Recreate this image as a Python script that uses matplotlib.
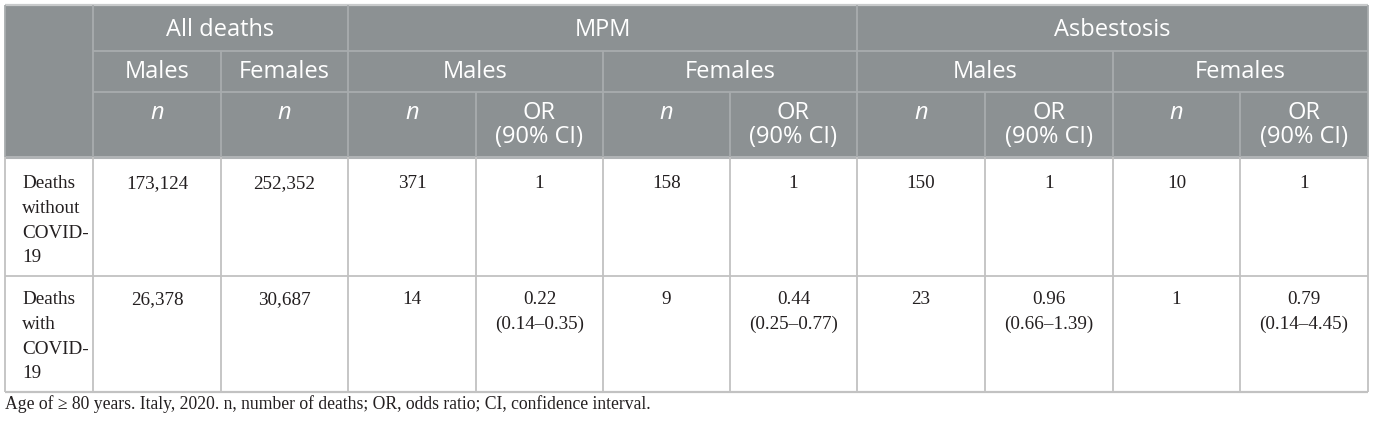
import matplotlib.pyplot as plt
from matplotlib.patches import Rectangle

# ---- table content ----
GROUPS = ["All deaths", "MPM", "Asbestosis"]
SEXES = ["Males", "Females", "Males", "Females", "Males", "Females"]
SUBHEADS = ["n", "n", "n", "OR\n(90% CI)", "n", "OR\n(90% CI)",
            "n", "OR\n(90% CI)", "n", "OR\n(90% CI)"]
ROW_LABELS = ["Deaths\nwithout\nCOVID-\n19", "Deaths\nwith\nCOVID-\n19"]
ROW_WITHOUT = ["173,124", "252,352", "371", "1", "158", "1", "150", "1", "10", "1"]
ROW_WITH = ["26,378", "30,687", "14", "0.22\n(0.14\u20130.35)", "9",
            "0.44\n(0.25\u20130.77)", "23", "0.96\n(0.66\u20131.39)", "1",
            "0.79\n(0.14\u20134.45)"]
CAPTION = ("Age of \u2265 80 years. Italy, 2020. n, number of deaths; OR, odds ratio; "
           "CI, confidence interval.")

# ---- layout (pixels) ----
W, H = 1375, 426
XS = [5, 93, 221, 348, 476, 603, 730, 857, 985, 1113, 1240, 1368]
Y_TOP, Y_R1, Y_R2, Y_HEAD, Y_B1, Y_BOT = 5, 51, 92, 157, 276, 392
HEAD_BG = "#8c9193"
HEAD_LINE = "#a8acae"
BODY_LINE = "#c2c2c2"
SANS = ["Open Sans", "DejaVu Sans"]
SERIF = ["Liberation Serif", "DejaVu Serif"]
LINE_H = 24.5
HEAD_FS = 17
BODY_FS = 13.8

fig = plt.figure(figsize=(W / 100, H / 100), dpi=100)
ax = fig.add_axes([0, 0, 1, 1])
ax.set_xlim(0, W)
ax.set_ylim(H, 0)
ax.axis("off")

# header background
ax.add_patch(Rectangle((XS[0], Y_TOP), XS[-1] - XS[0], Y_HEAD - Y_TOP,
                       facecolor=HEAD_BG, edgecolor="none", zorder=0))


def hline(y, x0, x1, color, lw=1.3):
    ax.plot([x0, x1], [y, y], color=color, lw=lw, solid_capstyle="butt", zorder=2)


def vline(x, y0, y1, color, lw=1.3):
    ax.plot([x, x], [y0, y1], color=color, lw=lw, solid_capstyle="butt", zorder=2)


# header grid
hline(Y_TOP, XS[0], XS[-1], "#c8cacb", 1.6)
hline(Y_R1, XS[1], XS[-1], HEAD_LINE)
hline(Y_R2, XS[1], XS[-1], HEAD_LINE)
hline(Y_HEAD, XS[0], XS[-1], "#b0b3b5", 2.2)
for x in [XS[0], XS[1], XS[3], XS[7], XS[-1]]:
    vline(x, Y_TOP, Y_HEAD, HEAD_LINE)
for x in [XS[2], XS[5], XS[9]]:
    vline(x, Y_R1, Y_HEAD, HEAD_LINE)
for x in [XS[4], XS[6], XS[8], XS[10]]:
    vline(x, Y_R2, Y_HEAD, HEAD_LINE)

# body grid
hline(Y_B1, XS[0], XS[-1], BODY_LINE)
hline(Y_BOT, XS[0], XS[-1], BODY_LINE, 1.6)
for x in XS:
    vline(x, Y_HEAD, Y_BOT, BODY_LINE)

# header text
group_spans = [(1, 3), (3, 7), (7, 11)]
for name, (a, b) in zip(GROUPS, group_spans):
    ax.text((XS[a] + XS[b]) / 2, 30, name, family=SANS, fontsize=HEAD_FS,
            color="white", ha="center", va="center")
sex_spans = [(1, 2), (2, 3), (3, 5), (5, 7), (7, 9), (9, 11)]
for name, (a, b) in zip(SEXES, sex_spans):
    ax.text((XS[a] + XS[b]) / 2, 72, name, family=SANS, fontsize=HEAD_FS,
            color="white", ha="center", va="center")
for i, s in enumerate(SUBHEADS):
    cx = (XS[i + 1] + XS[i + 2]) / 2
    for j, line in enumerate(s.split("\n")):
        ax.text(cx, 113 + j * 24, line, family=SANS, fontsize=HEAD_FS,
                color="white", ha="center", va="center",
                style="italic" if line == "n" else "normal")

# body text
for r, (label, vals) in enumerate(zip(ROW_LABELS, [ROW_WITHOUT, ROW_WITH])):
    y0 = [184, 300][r]
    for j, line in enumerate(label.split("\n")):
        ax.text(22, y0 + j * LINE_H, line, family=SERIF, fontsize=BODY_FS,
                color="#231f20", ha="left", va="center")
    for i, v in enumerate(vals):
        cx = (XS[i + 1] + XS[i + 2]) / 2
        for j, line in enumerate(v.split("\n")):
            ax.text(cx, y0 + j * LINE_H, line, family=SERIF, fontsize=BODY_FS,
                    color="#231f20", ha="center", va="center")

ax.text(5, 404, CAPTION, family=SERIF, fontsize=12.7, color="#231f20",
        ha="left", va="center")

fig.savefig("out.png", dpi=100, facecolor="white")
